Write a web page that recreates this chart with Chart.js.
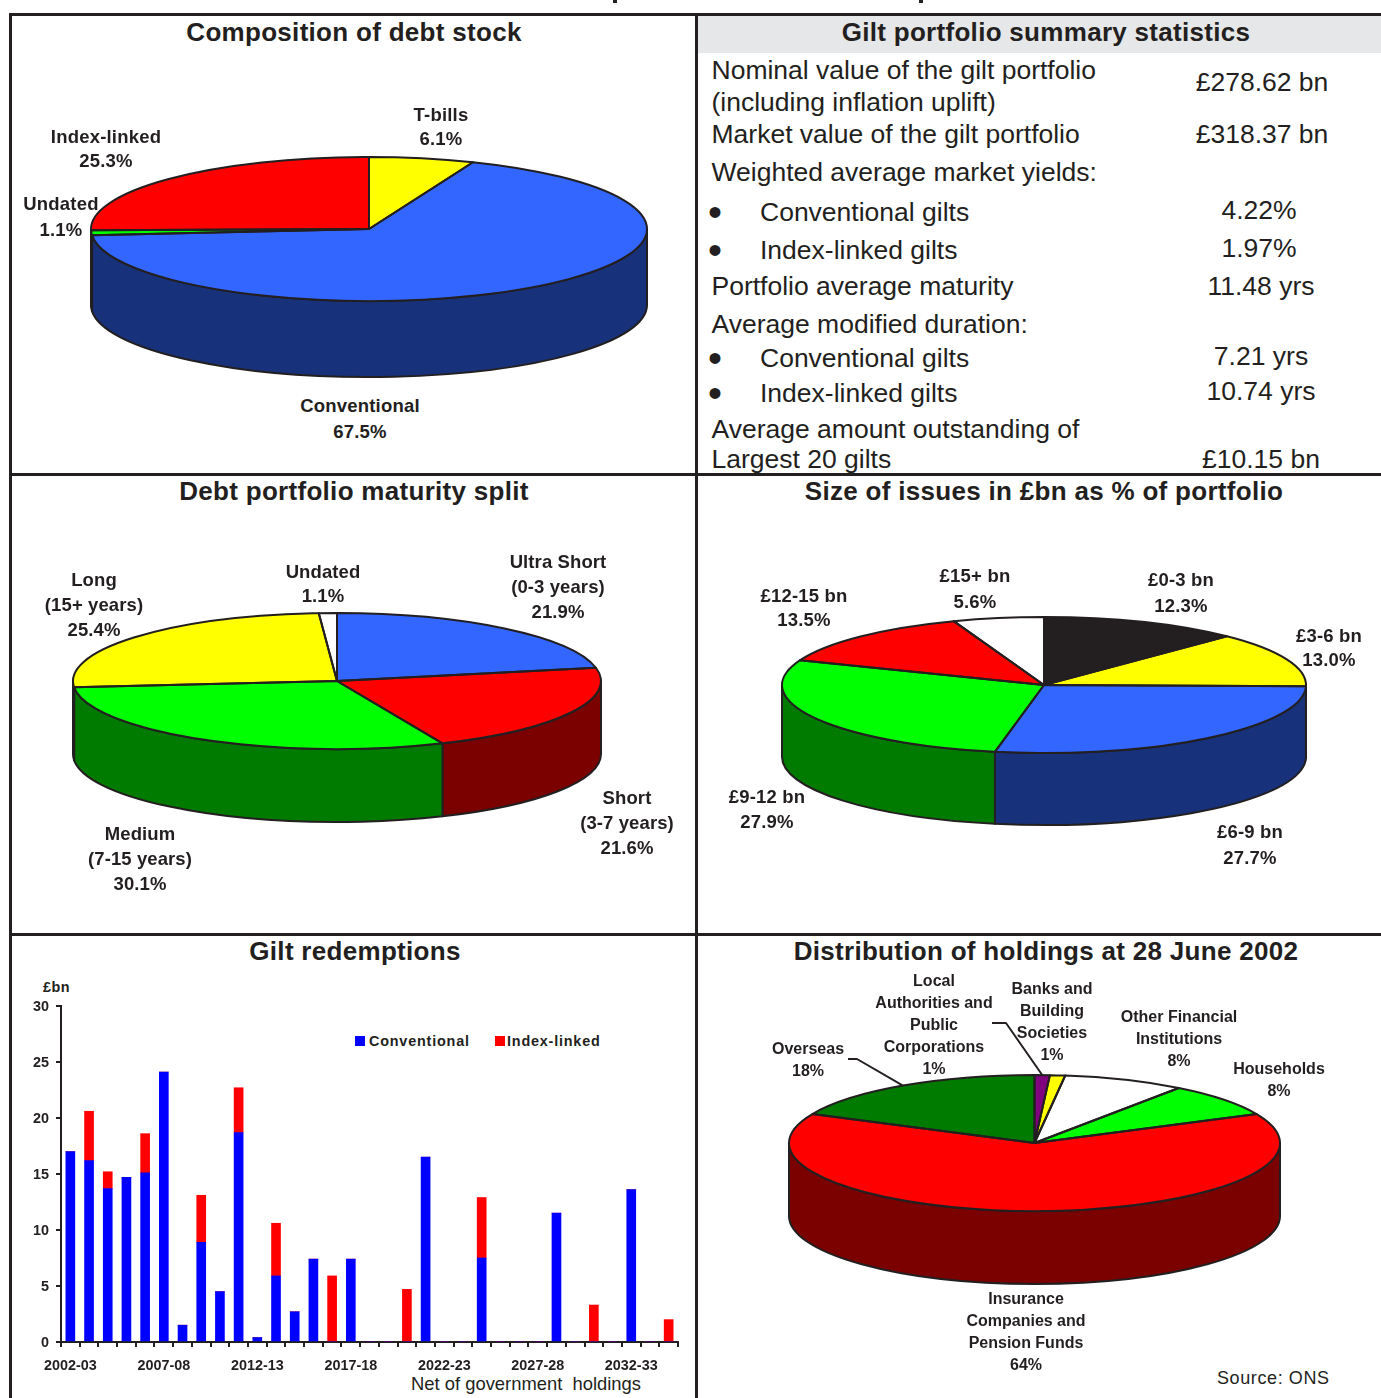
<!DOCTYPE html>
<html>
<head>
<meta charset="utf-8">
<title>Debt and gilt portfolio</title>
<script src="https://cdn.jsdelivr.net/npm/chart.js@4"></script>
<style>
  html, body { margin: 0; padding: 0; background: #fff; }
  body { position: relative; width: 1381px; height: 1398px; overflow: hidden; color: #231f20; font-family: "Liberation Sans", Arial, sans-serif; }
  .rule { position: absolute; background: #231f20; }
  .title { position: absolute; font-weight: bold; font-size: 26px; line-height: 30px; letter-spacing: 0.3px; white-space: nowrap; transform: translateX(-50%); }
  .stat { position: absolute; font-size: 26.5px; line-height: 30px; white-space: nowrap; }
  .val { transform: translateX(-50%); }
  .dot { position: absolute; left: 708px; font-size: 40px; line-height: 30px; }
  .pie-label { position: absolute; font-weight: bold; text-align: center; white-space: nowrap; transform: translateX(-50%); }
  .note { position: absolute; font-size: 18.4px; line-height: 22px; white-space: nowrap; }
  canvas { position: absolute; }
  .key { position: absolute; font-weight: bold; font-size: 14.4px; letter-spacing: 0.8px; line-height: 18px; white-space: nowrap; }
  .swatch { position: absolute; width: 10px; height: 10px; }
</style>
</head>
<body>
<!-- panel frame -->
<div class="rule" style="left:9px;top:13px;width:1372px;height:3px"></div>
<div class="rule" style="left:9px;top:13px;width:3px;height:1385px"></div>
<div class="rule" style="left:695px;top:13px;width:3px;height:1385px"></div>
<div class="rule" style="left:9px;top:473px;width:1372px;height:3px"></div>
<div class="rule" style="left:9px;top:933px;width:1372px;height:3px"></div>
<div style="position:absolute;left:698px;top:16px;width:683px;height:37px;background:#e6e7e8"></div>
<div class="rule" style="left:613px;top:0;width:4px;height:3px"></div>
<div class="rule" style="left:919px;top:0;width:4px;height:3px"></div>

<div class="title" style="left:354px;top:17px">Composition of debt stock</div>
<div class="title" style="left:1046px;top:17px">Gilt portfolio summary statistics</div>
<div class="title" style="left:354px;top:476px">Debt portfolio maturity split</div>
<div class="title" style="left:1044px;top:476px">Size of issues in £bn as % of portfolio</div>
<div class="title" style="left:355px;top:936px">Gilt redemptions</div>
<div class="title" style="left:1046px;top:936px">Distribution of holdings at 28 June 2002</div>

<!-- summary statistics -->
<div class="stat" style="left:711.5px;top:55px">Nominal value of the gilt portfolio</div>
<div class="stat" style="left:711.5px;top:87px">(including inflation uplift)</div>
<div class="stat val" style="left:1262px;top:67px">£278.62 bn</div>
<div class="stat" style="left:711.5px;top:119px">Market value of the gilt portfolio</div>
<div class="stat val" style="left:1262px;top:119px">£318.37 bn</div>
<div class="stat" style="left:711.5px;top:157px">Weighted average market yields:</div>
<div class="dot" style="top:197px">•</div>
<div class="stat" style="left:760px;top:197px">Conventional gilts</div>
<div class="stat val" style="left:1259px;top:195px">4.22%</div>
<div class="dot" style="top:235px">•</div>
<div class="stat" style="left:760px;top:235px">Index-linked gilts</div>
<div class="stat val" style="left:1259px;top:233px">1.97%</div>
<div class="stat" style="left:711.5px;top:271px">Portfolio average maturity</div>
<div class="stat val" style="left:1261px;top:271px">11.48 yrs</div>
<div class="stat" style="left:711.5px;top:309px">Average modified duration:</div>
<div class="dot" style="top:343px">•</div>
<div class="stat" style="left:760px;top:343px">Conventional gilts</div>
<div class="stat val" style="left:1261px;top:341px">7.21 yrs</div>
<div class="dot" style="top:378px">•</div>
<div class="stat" style="left:760px;top:378px">Index-linked gilts</div>
<div class="stat val" style="left:1261px;top:376px">10.74 yrs</div>
<div class="stat" style="left:711.5px;top:414px">Average amount outstanding of</div>
<div class="stat" style="left:711.5px;top:444px">Largest 20 gilts</div>
<div class="stat val" style="left:1261px;top:444px">£10.15 bn</div>

<div class="note" style="left:411px;top:1373px">Net of government&nbsp; holdings</div>
<div class="note" style="left:1217px;top:1367px;letter-spacing:0.6px;font-size:18px">Source: ONS</div>
<div class="key" style="left:43px;top:978px;letter-spacing:0.5px">£bn</div>

<script>
// pie data, clockwise from twelve o'clock
const debtStockLabels = ['T-bills', 'Conventional', 'Undated', 'Index-linked'];
const debtStockValues = [6.1, 67.5, 1.1, 25.3];

const maturityLabels = ['Ultra Short\n(0-3 years)', 'Short\n(3-7 years)', 'Medium\n(7-15 years)', 'Long\n(15+ years)', 'Undated'];
const maturityValues = [21.9, 21.6, 30.1, 25.4, 1.1];

const issueSizeLabels = ['£0-3 bn', '£3-6 bn', '£6-9 bn', '£9-12 bn', '£12-15 bn', '£15+ bn'];
const issueSizeValues = [12.3, 13.0, 27.7, 27.9, 13.5, 5.6];

const holdingsLabels = ['Local\nAuthorities and\nPublic\nCorporations', 'Banks and\nBuilding\nSocieties', 'Other Financial\nInstitutions', 'Households', 'Insurance\nCompanies and\nPension Funds', 'Overseas'];
const holdingsValues = [1, 1, 8, 8, 64, 18];

// gilt redemptions, £bn
const redemptionYears = ['2002-03', '2003-04', '2004-05', '2005-06', '2006-07', '2007-08', '2008-09', '2009-10', '2010-11', '2011-12', '2012-13',
  '2013-14', '2014-15', '2015-16', '2016-17', '2017-18', '2018-19', '2019-20', '2020-21', '2021-22', '2022-23', '2023-24',
  '2024-25', '2025-26', '2026-27', '2027-28', '2028-29', '2029-30', '2030-31', '2031-32', '2032-33', '2033-34', '2034-35'];
const conventionalValues = [17.0, 16.2, 13.7, 14.7, 15.1, 24.1, 1.5, 8.9, 4.5, 18.7, 0.4, 5.9, 2.7, 7.4, 0, 7.4, 0, 0, 0, 16.5, 0, 0, 7.5, 0, 0, 0, 11.5, 0, 0, 0, 13.6, 0, 0];
const indexLinkedValues = [0, 4.4, 1.5, 0, 3.5, 0, 0, 4.2, 0, 4.0, 0, 4.7, 0, 0, 5.9, 0, 0, 0, 4.7, 0, 0, 0, 5.4, 0, 0, 0, 0, 0, 3.3, 0, 0, 0, 2.0];
const yTicks = [0, 5, 10, 15, 20, 25, 30];

const INK = '#231f20';
const BLUE = '#3366ff', NAVY = '#17327b', RED = '#ff0000', MAROON = '#7b0000', LIME = '#00ff00', GREEN = '#007b00', YELLOW = '#ffff00', OLIVE = '#7b7b00', PURPLE = '#800080';

// squashes the arcs into an ellipse and puts a rim under the front half
const tiltPlugin = {
  id: 'tilt',
  beforeDatasetsDraw(chart, args, opts) {
    const ctx = chart.ctx;
    const arcs = chart.getDatasetMeta(0).data;
    const { x: cx, y: cy, outerRadius: rx } = arcs[0];
    const ry = opts.ry;
    ctx.save();
    ctx.strokeStyle = INK;
    ctx.lineWidth = 2;
    ctx.lineJoin = 'round';
    arcs.forEach((arc, i) => {
      for (const shift of [0, Math.PI * 2]) {
        const a = Math.max(arc.startAngle + shift, 0);
        const b = Math.min(arc.endAngle + shift, Math.PI);
        if (b <= a) continue;
        ctx.beginPath();
        ctx.ellipse(cx, cy, rx, ry, 0, a, b);
        ctx.lineTo(cx + rx * Math.cos(b), cy + ry * Math.sin(b) + opts.depth);
        ctx.ellipse(cx, cy + opts.depth, rx, ry, 0, b, a, true);
        ctx.closePath();
        ctx.fillStyle = opts.rims[i];
        ctx.fill();
        ctx.stroke();
      }
    });
    ctx.restore();
    ctx.save();
    ctx.translate(0, cy);
    ctx.scale(1, ry / rx);
    ctx.translate(0, -cy);
  },
  afterDatasetsDraw(chart, args, opts) {
    const ctx = chart.ctx;
    ctx.restore();
    const arcs = chart.getDatasetMeta(0).data;
    const { x: cx, y: cy, outerRadius: rx } = arcs[0];
    const ry = opts.ry;
    ctx.save();
    ctx.strokeStyle = INK;
    ctx.lineWidth = 2;
    ctx.lineJoin = 'round';
    arcs.forEach(arc => {
      ctx.beginPath();
      ctx.moveTo(cx, cy);
      ctx.ellipse(cx, cy, rx, ry, 0, arc.startAngle, arc.endAngle);
      ctx.closePath();
      ctx.stroke();
    });
    // leader lines run from beside a label to the rim at the slice's middle
    (opts.leaders || []).forEach(l => {
      const arc = arcs[l.slice];
      const mid = (arc.startAngle + arc.endAngle) / 2;
      const left = chart.canvas.offsetLeft, top = chart.canvas.offsetTop;
      ctx.beginPath();
      ctx.moveTo(l.from[0] - left, l.from[1] - top);
      ctx.lineTo(l.elbow[0] - left, l.elbow[1] - top);
      ctx.lineTo(cx + rx * Math.cos(mid), cy + ry * Math.sin(mid));
      ctx.stroke();
    });
    ctx.restore();
  }
};

function addCanvas(left, top, width, height) {
  const canvas = document.createElement('canvas');
  canvas.width = width;
  canvas.height = height;
  canvas.style.left = left + 'px';
  canvas.style.top = top + 'px';
  canvas.style.width = width + 'px';
  canvas.style.height = height + 'px';
  document.body.appendChild(canvas);
  return canvas;
}

function drawPie(labels, values, p) {
  const w = p.rx * 2 + 12, h = (p.ry + p.depth) * 2 + 12;
  const canvas = addCanvas(p.cx - w / 2, p.cy - h / 2, w, h);
  new Chart(canvas, {
    type: 'pie',
    data: {
      labels: labels,
      datasets: [{ data: values, backgroundColor: p.tops, borderWidth: 0, clip: false }]
    },
    options: {
      responsive: false,
      animation: false,
      events: [],
      radius: p.rx,
      plugins: {
        legend: { display: false },
        tooltip: { enabled: false },
        tilt: { ry: p.ry, depth: p.depth, rims: p.rims, leaders: p.leaders }
      }
    },
    plugins: [tiltPlugin]
  });

  // slice captions: name, then the value
  labels.forEach((label, i) => {
    const [x, y, lineHeight] = p.captions[i];
    const div = document.createElement('div');
    div.className = 'pie-label';
    div.style.left = x + 'px';
    div.style.top = (y - lineHeight / 2) + 'px';
    div.style.lineHeight = lineHeight + 'px';
    div.style.fontSize = p.fontSize + 'px';
    div.style.letterSpacing = p.spacing + 'px';
    div.innerText = label + '\n' + values[i].toFixed(p.decimals) + '%';
    document.body.appendChild(div);
  });
}

drawPie(debtStockLabels, debtStockValues, {
  cx: 369, cy: 229, rx: 278, ry: 72, depth: 76, decimals: 1, fontSize: 18.5, spacing: 0.2,
  tops: [YELLOW, BLUE, LIME, RED], rims: [OLIVE, NAVY, GREEN, MAROON],
  captions: [[441, 115, 24], [360, 406, 26], [61, 204, 26], [106, 137, 24]]
});

drawPie(maturityLabels, maturityValues, {
  cx: 337, cy: 681, rx: 264, ry: 68, depth: 73, decimals: 1, fontSize: 18.5, spacing: 0.1,
  tops: [BLUE, RED, LIME, YELLOW, '#ffffff'], rims: [NAVY, MAROON, GREEN, GREEN, GREEN],
  captions: [[558, 561, 25], [627, 797, 25], [140, 833, 25], [94, 579, 25], [323, 572, 24]]
});

drawPie(issueSizeLabels, issueSizeValues, {
  cx: 1043.5, cy: 685, rx: 262, ry: 68, depth: 72, decimals: 1, fontSize: 18.5, spacing: 0.2,
  tops: [INK, YELLOW, BLUE, LIME, RED, '#ffffff'], rims: [INK, NAVY, NAVY, GREEN, MAROON, INK],
  captions: [[1181, 580, 26], [1329, 636, 24], [1250, 832, 26], [767, 796, 25], [804, 596, 24], [975, 576, 26]]
});

drawPie(holdingsLabels, holdingsValues, {
  cx: 1034.5, cy: 1143, rx: 245.5, ry: 68, depth: 73, decimals: 0, fontSize: 16, spacing: 0,
  tops: [PURPLE, YELLOW, '#ffffff', LIME, RED, GREEN], rims: [MAROON, MAROON, MAROON, MAROON, MAROON, GREEN],
  captions: [[934, 981, 22], [1052, 989, 22], [1179, 1017, 22], [1279, 1069, 22], [1026, 1299, 22], [808, 1049, 22]],
  leaders: [
    { slice: 5, from: [848, 1059], elbow: [857, 1059] },
    { slice: 0, from: [992, 1023], elbow: [1006, 1023] }
  ]
});

// legend for the redemptions chart
[['Conventional', '#0000ff', 355, 369], ['Index-linked', '#ff0000', 495, 507]].forEach(([name, colour, sx, tx]) => {
  const swatch = document.createElement('div');
  swatch.className = 'swatch';
  swatch.style.cssText = 'left:' + sx + 'px;top:1036px;background:' + colour;
  document.body.appendChild(swatch);
  const key = document.createElement('div');
  key.className = 'key';
  key.style.cssText = 'left:' + tx + 'px;top:1032px';
  key.textContent = name;
  document.body.appendChild(key);
});

const barCanvas = addCanvas(12, 975, 684, 420);
new Chart(barCanvas, {
  type: 'bar',
  data: {
    labels: redemptionYears,
    datasets: [
      { label: 'Conventional', data: conventionalValues, backgroundColor: '#0000ff', barThickness: 9 },
      { label: 'Index-linked', data: indexLinkedValues, backgroundColor: '#ff0000', barThickness: 9 }
    ]
  },
  options: {
    responsive: false,
    animation: false,
    events: [],
    layout: { padding: { top: 31, right: 18, bottom: 0, left: 0 } },
    plugins: { legend: { display: false }, tooltip: { enabled: false } },
    scales: {
      x: {
        stacked: true,
        afterFit: s => { s.height = 53; },
        border: { color: INK, width: 2 },
        grid: { offset: true, drawOnChartArea: false, color: INK, lineWidth: 2, tickLength: 5 },
        ticks: {
          autoSkip: false,
          maxRotation: 0,
          padding: 10,
          color: INK,
          font: { family: '"Liberation Sans"', size: 14.4, weight: 'bold' },
          callback: (v, i) => (i % 5 === 0 ? redemptionYears[i] : '')
        }
      },
      y: {
        stacked: true,
        min: 0,
        max: 30,
        afterFit: s => { s.width = 49; },
        afterBuildTicks: s => { s.ticks = yTicks.map(v => ({ value: v })); },
        border: { color: INK, width: 2 },
        grid: { drawOnChartArea: false, color: INK, lineWidth: 2, tickLength: 5 },
        ticks: {
          padding: 7,
          labelOffset: 1,
          color: INK,
          font: { family: '"Liberation Sans"', size: 14.4, weight: 'bold' }
        }
      }
    }
  }
});
</script>
</body>
</html>
